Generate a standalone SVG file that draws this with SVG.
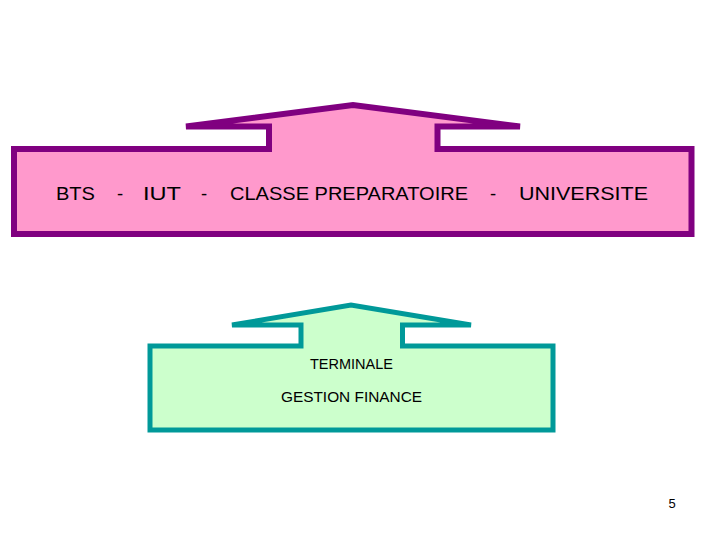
<svg xmlns="http://www.w3.org/2000/svg" width="720" height="540" viewBox="0 0 720 540">
<style>
.pink{fill:#FF99CC;stroke:#800080;stroke-width:6;stroke-linejoin:miter;stroke-miterlimit:4}
.green{fill:#CCFFCC;stroke:#009999;stroke-width:5;stroke-linejoin:miter;stroke-miterlimit:4}
.t{font-family:"Liberation Sans",Arial,sans-serif;fill:#000}
</style>
<rect width="720" height="540" fill="#fff"/>
<g id="node-etudes">
<path class="pink" d="M14,149 L269,149 L269,126.5 L186,126.5 L353,105 L520,126.5 L437.5,126.5 L437.5,149 L691.5,149 L691.5,234 L14,234 Z"/>
<text class="t" y="200" font-size="18.5" xml:space="preserve"><tspan x="56" textLength="39" lengthAdjust="spacingAndGlyphs">BTS</tspan><tspan x="117">-</tspan><tspan x="143" textLength="38" lengthAdjust="spacingAndGlyphs">IUT</tspan><tspan x="201">-</tspan><tspan x="230" textLength="238" lengthAdjust="spacingAndGlyphs">CLASSE PREPARATOIRE</tspan><tspan x="490">-</tspan><tspan x="519" textLength="129" lengthAdjust="spacingAndGlyphs">UNIVERSITE</tspan></text>
</g>
<g id="node-terminale">
<path class="green" d="M150,346 L301,346 L301,325 L232,325 L351,305 L471,325 L402.5,325 L402.5,346 L553,346 L553,430 L150,430 Z"/>
<text class="t" x="310" y="369" font-size="14.5" textLength="83" lengthAdjust="spacingAndGlyphs">TERMINALE</text>
<text class="t" x="281" y="402" font-size="14.5" textLength="141" lengthAdjust="spacingAndGlyphs">GESTION FINANCE</text>
</g>
<g id="connectors"/>
<text class="t" x="672" y="508" font-size="13" text-anchor="middle">5</text>
</svg>
